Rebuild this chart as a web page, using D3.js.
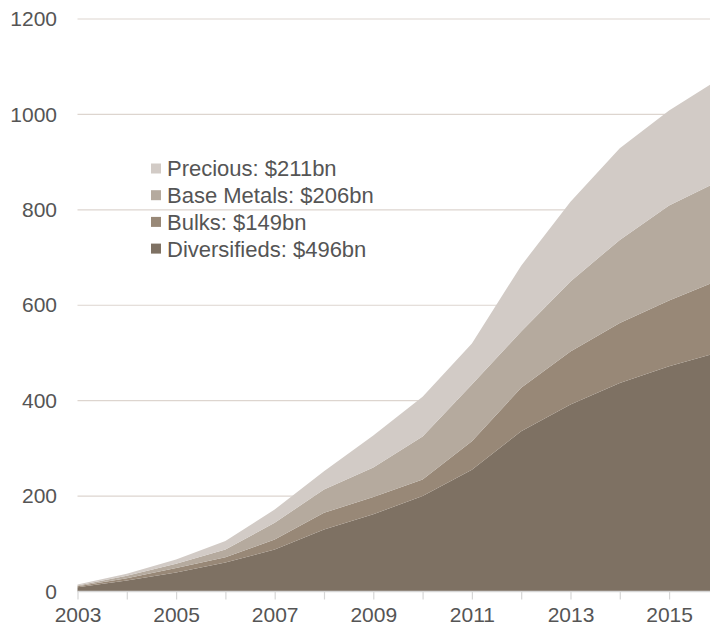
<!DOCTYPE html>
<html>
<head>
<meta charset="utf-8">
<script src="https://cdn.jsdelivr.net/npm/d3@7"></script>
<style>
  html, body { margin: 0; padding: 0; background: #fff; }
  svg { display: block; }
  text { font-family: "Liberation Sans", Arial, sans-serif; fill: #555; }
</style>
</head>
<body>
<svg id="chart" width="710" height="632"></svg>
<script>
// Market capitalisation by segment, US$ bn (last point = latest reading, late 2015)
const periods = [2003, 2004, 2005, 2006, 2007, 2008, 2009, 2010, 2011, 2012, 2013, 2014, 2015, 2015.83];
const diversifieds = [9, 23, 40, 61, 88, 130, 162, 200, 255, 336, 392, 437, 472, 496];
const bulks        = [2, 5, 9, 11, 21, 35, 36, 35, 60, 91, 111, 126, 138, 149];
const baseMetals   = [1.5, 5, 9, 16, 35, 49, 62, 90, 119, 118, 147, 174, 199, 206];
const precious     = [2, 4, 9, 18, 28, 38, 67, 83, 86, 138, 167, 192, 199, 211];

const seriesKeys   = ["Diversifieds", "Bulks", "Base Metals", "Precious"];
const seriesValues = [diversifieds, bulks, baseMetals, precious];
const seriesColors = ["#7e7163", "#988877", "#b5aa9e", "#d2cbc6"];

const yTicks = [0, 200, 400, 600, 800, 1000, 1200];
const xTicks = [2003, 2004, 2005, 2006, 2007, 2008, 2009, 2010, 2011, 2012, 2013, 2014, 2015];
const xLabels = [2003, 2005, 2007, 2009, 2011, 2013, 2015];

const svg = d3.select("#chart");
const plot = { left: 77.5, right: 710, top: 19, bottom: 591.5 };

const x = d3.scaleLinear().domain([2003, 2015.83]).range([plot.left, plot.right]);
const y = d3.scaleLinear().domain([0, 1200]).range([plot.bottom, plot.top]);

// rows for the stack
const rows = periods.map((p, i) => {
  const r = { period: p };
  seriesKeys.forEach((k, j) => { r[k] = seriesValues[j][i]; });
  return r;
});
const stacked = d3.stack().keys(seriesKeys)(rows);

// horizontal gridlines
svg.append("g")
  .selectAll("line")
  .data(yTicks.filter(d => d > 0))
  .join("line")
  .attr("x1", plot.left).attr("x2", plot.right)
  .attr("y1", d => y(d)).attr("y2", d => y(d))
  .attr("stroke", "#ddd5cf").attr("stroke-width", 1.2);

// stacked areas
const area = d3.area()
  .x(d => x(d.data.period))
  .y0(d => y(d[0]))
  .y1(d => y(d[1]))
  .curve(d3.curveLinear);

svg.append("g")
  .selectAll("path")
  .data(stacked)
  .join("path")
  .attr("d", area)
  .attr("fill", (d, i) => seriesColors[i]);

// x axis baseline and ticks
const xAxis = d3.axisBottom(x)
  .tickValues(xTicks)
  .tickSize(8)
  .tickFormat(d => xLabels.includes(d) ? d3.format("d")(d) : "");
const gx = svg.append("g")
  .attr("transform", `translate(0,${plot.bottom})`)
  .call(xAxis);
gx.select(".domain").attr("stroke", "#d6d6d6").attr("stroke-width", 1.5)
  .attr("d", `M${plot.left},0H${plot.right}`);
gx.selectAll(".tick line").attr("stroke", "#d6d6d6").attr("stroke-width", 1.2);
gx.selectAll(".tick text")
  .attr("y", 16).attr("dy", "0.71em")
  .style("font-size", "21px").style("font-family", "'Liberation Sans', Arial, sans-serif")
  .attr("fill", "#555");

// y axis labels
const yAxis = d3.axisLeft(y).tickValues(yTicks).tickSize(0).tickPadding(0)
  .tickFormat(d3.format("d"));
const gy = svg.append("g")
  .attr("transform", "translate(57,0)")
  .call(yAxis);
gy.select(".domain").remove();
gy.selectAll(".tick text")
  .style("font-size", "21px").style("font-family", "'Liberation Sans', Arial, sans-serif")
  .attr("fill", "#555");

// legend (top entry = top layer)
const legendItems = seriesKeys.map((k, j) => ({
  key: k, color: seriesColors[j], value: seriesValues[j][seriesValues[j].length - 1]
})).reverse();

const legend = svg.append("g").attr("transform", "translate(151,163.5)");
const item = legend.selectAll("g")
  .data(legendItems)
  .join("g")
  .attr("transform", (d, i) => `translate(0,${i * 26.7})`);
item.append("rect")
  .attr("width", 10).attr("height", 10)
  .attr("fill", d => d.color);
item.append("text")
  .attr("x", 16).attr("y", 5).attr("dy", "0.36em")
  .style("font-size", "22px")
  .attr("fill", "#555")
  .text(d => `${d.key}: $${d.value}bn`);
</script>
</body>
</html>
